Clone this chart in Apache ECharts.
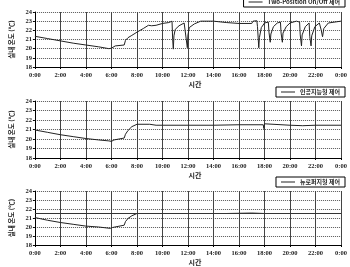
<!DOCTYPE html>
<html><head><meta charset="utf-8">
<script src="https://cdn.jsdelivr.net/npm/echarts@6/dist/echarts.min.js"></script>
<style>html,body{margin:0;padding:0;background:#fff}#c{width:350px;height:267px}</style>
</head><body><div id="c"></div>
<script>
const seriesNames = ['Two-Position On/Off 제어', '인공지능형 제어', '뉴로퍼지형 제어'];
const yTicks = [18, 19, 20, 21, 22, 23, 24];
const xTickHours = [0, 2, 4, 6, 8, 10, 12, 14, 16, 18, 20, 22, 24];
const onOffData = [[0,21.35],[1,21.1],[2,20.85],[3,20.6],[4,20.4],[5,20.2],[5.8,20.0],[6.0,20.05],[6.3,20.3],[7.0,20.4],[7.1,20.9],[7.3,21.2],[7.6,21.45],[8.0,21.8],[8.5,22.2],[8.9,22.55],[9.0,22.7],[9.15,22.5],[9.5,22.55],[10.0,22.75],[10.5,22.85],[10.75,23.0],[10.8,21.0],[10.85,19.95],[10.9,21.4],[11.0,22.1],[11.3,22.5],[11.7,22.8],[11.85,22.6],[11.95,20.1],[12.0,21.5],[12.1,22.3],[12.5,22.7],[13.0,23.0],[14.0,23.0],[15.0,22.85],[16.0,22.75],[17.0,22.75],[17.1,23.0],[17.4,23.05],[17.45,22.4],[17.55,20.1],[17.6,21.2],[17.75,22.3],[18.0,22.8],[18.3,22.9],[18.35,21.8],[18.45,20.7],[18.5,21.6],[18.7,22.4],[19.0,22.8],[19.25,22.9],[19.3,21.7],[19.4,20.7],[19.45,21.7],[19.7,22.4],[20.0,22.8],[20.5,23.0],[20.75,22.9],[20.8,21.5],[20.9,20.3],[20.95,21.5],[21.2,22.4],[21.5,22.8],[21.55,21.3],[21.65,20.3],[21.7,21.4],[21.95,22.4],[22.3,22.8],[22.4,22.9],[22.45,22.0],[22.55,21.3],[22.65,22.2],[23.0,22.8],[24,23.0]];
const aiData = [[0,20.95],[1,20.7],[2,20.45],[3,20.25],[4,20.05],[5,19.9],[5.8,19.8],[6.0,19.75],[6.2,19.9],[7.0,20.1],[7.1,20.5],[7.3,20.9],[7.6,21.3],[8.0,21.55],[9.0,21.55],[9.1,21.4],[9.5,21.45],[10,21.45],[12,21.45],[14,21.45],[16,21.5],[17.9,21.5],[17.95,21.1],[18.0,21.6],[18.1,21.5],[20,21.45],[21,21.4],[22,21.45],[24,21.45]];
const nfData = [[0,21.05],[1,20.75],[2,20.5],[3,20.3],[4,20.1],[5,20.0],[5.9,19.85],[6.1,19.95],[7.0,20.2],[7.1,20.6],[7.3,20.95],[7.6,21.25],[8.0,21.5],[9.0,21.5],[12,21.5],[15,21.5],[17,21.55],[18,21.5],[21,21.5],[24,21.5]];
const setPoint = 21.5;

const chart = echarts.init(document.getElementById('c'));
const grids = [
  {left: 22, right: 8, top: 12, height: 55},
  {left: 22, right: 8, top: 101, height: 57},
  {left: 22, right: 8, top: 191, height: 58}
];
const serif = 'Liberation Serif';
const xAxes = grids.map((g, i) => ({
  type: 'value', gridIndex: i, min: 0, max: 24, interval: 2,
  name: '시간', nameLocation: 'middle', nameGap: 14,
  nameTextStyle: {fontFamily: 'Noto Sans CJK KR', fontWeight: 'bold', fontSize: 7, color: '#222', padding: [0, 0, 0, 14]},
  axisLine: {show: true, lineStyle: {color: '#000', width: 1}},
  axisTick: {show: true, length: 2, lineStyle: {color: '#000'}},
  axisLabel: {fontFamily: serif, fontSize: 6.5, fontWeight: 'bold', color: '#222', margin: 5,
    formatter: v => (xTickHours.includes(v) ? ((v % 24) + ':00') : '')},
  splitLine: {show: true, lineStyle: {color: '#444', width: 1, type: 'solid'}}
}));
const yAxes = grids.map((g, i) => ({
  type: 'value', gridIndex: i, min: yTicks[0], max: yTicks[yTicks.length - 1], interval: 1,
  name: '실내 온도 (℃)', nameLocation: 'middle', nameGap: 13, nameRotate: 90,
  nameTextStyle: {fontFamily: 'Noto Sans CJK KR', fontWeight: 'bold', fontSize: 6.5, color: '#222'},
  axisLine: {show: true, lineStyle: {color: '#000', width: 1}},
  axisTick: {show: true, length: 2, lineStyle: {color: '#000'}},
  axisLabel: {fontFamily: serif, fontSize: 6.5, fontWeight: 'bold', color: '#222', margin: 3},
  splitLine: {show: true, lineStyle: {color: '#555', width: 1, type: [1, 1]}}
}));
const legendTops = [-3, 87, 177];
const legends = seriesNames.map((n, i) => ({
  data: [n], right: 5, top: legendTops[i], orient: 'horizontal',
  borderColor: '#000', borderWidth: 1, padding: [2, 5, 2, 5], itemGap: 4,
  icon: 'rect', itemWidth: 14, itemHeight: 1,
  textStyle: {fontFamily: 'Noto Sans CJK KR', fontSize: 6, color: '#222', fontWeight: 'bold'}
}));
const datas = [onOffData, aiData, nfData];
const series = datas.map((d, i) => ({
  name: seriesNames[i], type: 'line', xAxisIndex: i, yAxisIndex: i, data: d,
  symbol: 'none', lineStyle: {color: '#222', width: 1}, itemStyle: {color: '#222'},
  animation: false,
  markLine: i === 2 ? {symbol: 'none', silent: true, label: {show: false},
    lineStyle: {color: '#333', width: 1, type: 'solid'}, data: [{yAxis: setPoint}]} : undefined
}));
chart.setOption({
  animation: false,
  grid: grids, xAxis: xAxes, yAxis: yAxes, legend: legends, series: series
});
</script></body></html>
